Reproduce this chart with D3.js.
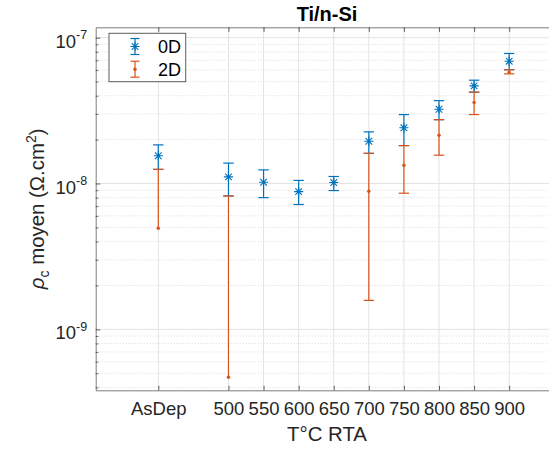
<!DOCTYPE html>
<html>
<head>
<meta charset="utf-8">
<script src="https://cdn.jsdelivr.net/npm/d3@7"></script>
<style>
  html, body { margin: 0; padding: 0; background: #fff; }
  svg { display: block; font-family: "Liberation Sans", Arial, Helvetica, sans-serif; }
</style>
</head>
<body>
<svg id="chart" width="549" height="452"></svg>
<script>
// ---- data ----
const categories = ["AsDep", "500", "550", "600", "650", "700", "750", "800", "850", "900"];
const xPositions = [400, 500, 550, 600, 650, 700, 750, 800, 850, 900];

const rho0D  = [1.55e-8, 1.11e-8, 1.02e-8, 0.88e-8, 1.015e-8, 1.95e-8, 2.41e-8, 3.23e-8, 4.67e-8, 6.90e-8];
const low0D  = [1.25e-8, 0.822e-8, 0.80e-8, 0.718e-8, 0.895e-8, 1.61e-8, 1.82e-8, 2.74e-8, 4.23e-8, 6.03e-8];
const high0D = [1.84e-8, 1.38e-8, 1.24e-8, 1.05e-8, 1.117e-8, 2.26e-8, 2.97e-8, 3.70e-8, 5.11e-8, 7.79e-8];

const rho2D  = [4.94e-9, 4.69e-10, null, null, null, 8.86e-9, 1.335e-8, 2.145e-8, 3.59e-8, 5.80e-8];
const low2D  = [null, null, null, null, null, 1.58e-9, 8.58e-9, 1.564e-8, 2.97e-8, 5.65e-8];
const high2D = [1.25e-8, 0.822e-8, null, null, null, 1.61e-8, 1.82e-8, 2.74e-8, 4.23e-8, 6.03e-8];

const yMajorTicks = [1e-9, 1e-8, 1e-7];
const yTickExponents = ["-9", "-8", "-7"];
const seriesNames = ["0D", "2D"];

// ---- layout ----
const colors = { s0: "#0072BD", s1: "#D95319" };
const axisColor = "#262626";
const L = 95.7, R = 558.3, T = 27.3, B = 390.3;

const svg = d3.select("#chart");
const x = d3.scaleLinear().domain([310.8, 970]).range([L, R]);
const y = d3.scaleLog().domain([3.82e-10, 1.178e-7]).range([B, T]);

// minor ticks
const yMinor = [];
for (let e = -10; e <= -8; e++) {
  for (let k = 2; k <= 9; k++) {
    const v = k * Math.pow(10, e);
    if (v >= y.domain()[0] && v <= y.domain()[1]) yMinor.push(v);
  }
}

// ---- grid ----
const grid = svg.append("g");
grid.selectAll("line.ymin").data(yMinor).join("line")
  .attr("x1", L).attr("x2", R)
  .attr("y1", d => y(d)).attr("y2", d => y(d))
  .attr("stroke", "#cfcfcf").attr("stroke-width", 0.8)
  .attr("stroke-dasharray", "1,2");
grid.selectAll("line.ymaj").data(yMajorTicks).join("line")
  .attr("x1", L).attr("x2", R)
  .attr("y1", d => y(d)).attr("y2", d => y(d))
  .attr("stroke", "#e3e3e3").attr("stroke-width", 1);
grid.selectAll("line.xmaj").data(xPositions).join("line")
  .attr("x1", d => x(d)).attr("x2", d => x(d))
  .attr("y1", T).attr("y2", B)
  .attr("stroke", "#e3e3e3").attr("stroke-width", 1);

// ---- axes ----
const tickLen = 4.6;
const xAxis = d3.axisBottom(x).tickValues(xPositions)
  .tickSizeInner(-tickLen).tickSizeOuter(0).tickPadding(12)
  .tickFormat((d, i) => categories[i]);
const gx = svg.append("g").attr("transform", `translate(0,${B})`).call(xAxis);
gx.select(".domain").attr("stroke", axisColor).attr("stroke-opacity", 0.6);
gx.selectAll(".tick line").attr("stroke", axisColor).attr("stroke-opacity", 0.7);
gx.selectAll(".tick text")
  .attr("font-size", "18.5px").attr("fill", axisColor)
  .attr("font-family", "Liberation Sans, Arial, sans-serif")
  .attr("dy", "0.71em");

const xTop = d3.axisTop(x).tickValues(xPositions)
  .tickSizeInner(-tickLen).tickSizeOuter(0).tickFormat("");
const gxt = svg.append("g").attr("transform", `translate(0,${T})`).call(xTop);
gxt.select(".domain").attr("stroke", axisColor).attr("stroke-opacity", 0.6);
gxt.selectAll(".tick line").attr("stroke", axisColor).attr("stroke-opacity", 0.7);

const yAxis = d3.axisLeft(y).tickValues(yMajorTicks)
  .tickSizeInner(-tickLen).tickSizeOuter(0).tickFormat("");
const gy = svg.append("g").attr("transform", `translate(${L},0)`).call(yAxis);
gy.select(".domain").attr("stroke", axisColor).attr("stroke-opacity", 0.6);
gy.selectAll(".tick line").attr("stroke", axisColor).attr("stroke-opacity", 0.7);

const yAxisMinor = d3.axisLeft(y).tickValues(yMinor)
  .tickSizeInner(-2.8).tickSizeOuter(0).tickFormat("");
const gym = svg.append("g").attr("transform", `translate(${L},0)`).call(yAxisMinor);
gym.select(".domain").remove();
gym.selectAll(".tick line").attr("stroke", axisColor).attr("stroke-opacity", 0.6);

// y tick labels with superscript exponent
yMajorTicks.forEach((v, i) => {
  const t = svg.append("text")
    .attr("x", L - 8.5).attr("y", y(v) + 10)
    .attr("text-anchor", "end")
    .attr("fill", axisColor)
    .attr("font-size", "18.5px");
  t.append("tspan").text("10");
  t.append("tspan").attr("font-size", "12.5px").attr("dy", -8.3).text(yTickExponents[i]);
});

// ---- error bars ----
const capW = 5.2;
function drawErrorBars(g, color, means, lows, highs) {
  xPositions.forEach((xv, i) => {
    if (means[i] == null) return;
    const cx = x(xv);
    const top = highs[i] != null ? y(highs[i]) : y(means[i]);
    const bot = lows[i] != null ? y(lows[i]) : y(means[i]);
    g.append("line").attr("x1", cx).attr("x2", cx).attr("y1", top).attr("y2", bot)
      .attr("stroke", color).attr("stroke-width", 1.2);
    if (highs[i] != null)
      g.append("line").attr("x1", cx - capW).attr("x2", cx + capW).attr("y1", top).attr("y2", top)
        .attr("stroke", color).attr("stroke-width", 1.2);
    if (lows[i] != null)
      g.append("line").attr("x1", cx - capW).attr("x2", cx + capW).attr("y1", bot).attr("y2", bot)
        .attr("stroke", color).attr("stroke-width", 1.2);
  });
}
function starPath(cx, cy, r) {
  const d = r * 0.72;
  return `M${cx - r},${cy}L${cx + r},${cy}M${cx},${cy - r}L${cx},${cy + r}` +
         `M${cx - d},${cy - d}L${cx + d},${cy + d}M${cx - d},${cy + d}L${cx + d},${cy - d}`;
}

const g0 = svg.append("g");
drawErrorBars(g0, colors.s0, rho0D, low0D, high0D);
xPositions.forEach((xv, i) => {
  if (rho0D[i] == null) return;
  g0.append("path").attr("d", starPath(x(xv), y(rho0D[i]), 4.6))
    .attr("stroke", colors.s0).attr("stroke-width", 1.1).attr("fill", "none");
});

const g1 = svg.append("g");
drawErrorBars(g1, colors.s1, rho2D, low2D, high2D);
xPositions.forEach((xv, i) => {
  if (rho2D[i] == null) return;
  g1.append("circle").attr("cx", x(xv)).attr("cy", y(rho2D[i])).attr("r", 1.7)
    .attr("fill", colors.s1);
});

// ---- title & labels ----
svg.append("text").attr("x", 327).attr("y", 20.5)
  .attr("text-anchor", "middle").attr("font-weight", "bold")
  .attr("font-size", "20px").attr("fill", "#000").text("Ti/n-Si");

svg.append("text").attr("x", 327).attr("y", 441)
  .attr("text-anchor", "middle").attr("font-size", "20.4px")
  .attr("fill", axisColor).text("T°C RTA");

const yl = svg.append("text")
  .attr("transform", `translate(44,${(T + B) / 2}) rotate(-90)`)
  .attr("text-anchor", "middle").attr("font-size", "20.4px").attr("fill", axisColor);
yl.append("tspan").attr("font-style", "italic").text("ρ");
yl.append("tspan").attr("font-size", "14px").attr("dy", 5).text("c");
yl.append("tspan").attr("dy", -5).text(" moyen (Ω.cm");
yl.append("tspan").attr("font-size", "14px").attr("dy", -8).text("2");
yl.append("tspan").attr("dy", 8).text(")");

// ---- legend ----
const lg = svg.append("g");
lg.append("rect").attr("x", 109).attr("y", 33.3).attr("width", 76.7).attr("height", 48.4)
  .attr("fill", "#fff").attr("stroke", axisColor).attr("stroke-opacity", 0.75).attr("stroke-width", 1);
const legendRows = [
  { name: seriesNames[0], color: colors.s0, cy: 46.5, marker: "star" },
  { name: seriesNames[1], color: colors.s1, cy: 69.2, marker: "dot" }
];
legendRows.forEach(r => {
  const cx = 135;
  lg.append("line").attr("x1", cx).attr("x2", cx).attr("y1", r.cy - 8).attr("y2", r.cy + 8)
    .attr("stroke", r.color).attr("stroke-width", 1.2);
  [r.cy - 8, r.cy + 8].forEach(yy => lg.append("line")
    .attr("x1", cx - 4.5).attr("x2", cx + 4.5).attr("y1", yy).attr("y2", yy)
    .attr("stroke", r.color).attr("stroke-width", 1.2));
  if (r.marker === "star")
    lg.append("path").attr("d", starPath(cx, r.cy, 4.6)).attr("stroke", r.color)
      .attr("stroke-width", 1.1).attr("fill", "none");
  else
    lg.append("circle").attr("cx", cx).attr("cy", r.cy).attr("r", 1.7).attr("fill", r.color);
  lg.append("text").attr("x", 158).attr("y", r.cy + 6.6).attr("font-size", "18px")
    .attr("fill", "#000").text(r.name);
});
</script>
</body>
</html>
